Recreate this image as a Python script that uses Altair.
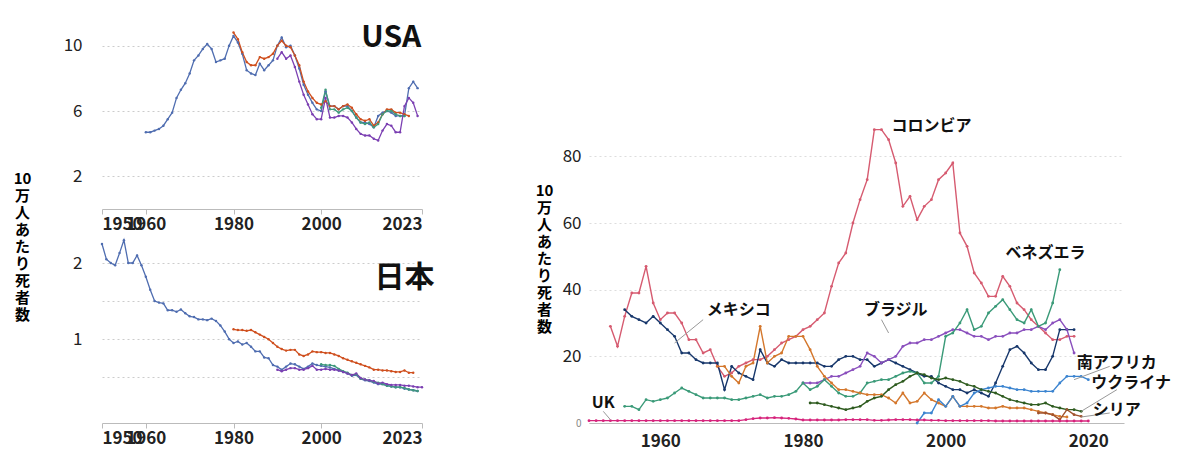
import altair as alt
import pandas as pd

FONT = "Noto Sans CJK JP"

# USA (per 100k), start year + yearly values
usa_blue_start = 1960
usa_blue = [4.7, 4.7, 4.8, 4.9, 5.1, 5.5, 5.9, 6.8, 7.3, 7.7, 8.3, 9.1, 9.4, 9.8, 10.1, 9.8, 9.0, 9.1, 9.2, 10.0,
            10.6, 10.2, 9.5, 8.5, 8.3, 8.2, 8.9, 8.5, 8.8, 9.1, 10.0, 10.5, 9.9, 10.0, 9.4, 8.6, 7.6, 7.0, 6.5, 6.1,
            6.0, 7.2, 6.3, 6.3, 6.1, 6.3, 6.3, 6.0, 5.6, 5.3, 5.3, 5.2, 5.0, 5.7, 5.9, 6.0, 5.9, 5.7, 5.7, 5.7,
            7.4, 7.8, 7.4]
usa_orange_start = 1980
usa_orange = [10.8, 10.4, 9.6, 9.0, 8.8, 8.8, 9.3, 9.2, 9.3, 9.5, 10.0, 10.3, 10.0, 9.9, 9.4, 8.8, 7.8, 7.2, 6.8, 6.5,
              6.4, 6.6, 6.3, 6.3, 6.1, 6.3, 6.4, 6.2, 5.8, 5.5, 5.4, 5.5, 5.1, 5.3, 5.8, 6.1, 6.1, 5.9, 5.9, 5.8, 5.7]
usa_green_start = 2000
usa_green = [6.2, 7.3, 6.1, 6.1, 5.9, 6.1, 6.2, 6.0, 5.6, 5.3, 5.2, 5.3, 5.0, 5.2, 5.8, 6.0, 6.0, 5.8, 5.7, 5.7]
usa_purple_start = 1990
usa_purple = [9.2, 9.6, 9.2, 9.4, 8.7, 7.8, 7.0, 6.4, 5.8, 5.5, 5.5, 6.8, 5.6, 5.6, 5.7, 5.7, 5.6, 5.3, 4.9, 4.6,
              4.5, 4.5, 4.3, 4.2, 4.8, 5.2, 5.1, 4.7, 4.7, 6.3, 6.8, 6.5, 5.7]

# Japan
jp_blue_start = 1950
jp_blue = [2.25, 2.05, 2.0, 1.97, 2.13, 2.3, 2.0, 2.0, 2.1, 1.97, 1.82, 1.65, 1.5, 1.48, 1.47, 1.38, 1.38, 1.36, 1.39,
           1.34, 1.3, 1.29, 1.26, 1.26, 1.25, 1.27, 1.24, 1.18, 1.1, 1.0, 0.95, 0.97, 0.93, 0.95, 0.9, 0.84, 0.84,
           0.76, 0.75, 0.66, 0.64, 0.6, 0.64, 0.68, 0.67, 0.64, 0.61, 0.64, 0.68, 0.66, 0.65, 0.64, 0.63, 0.61,
           0.59, 0.57, 0.55, 0.52, 0.53, 0.48, 0.46, 0.45, 0.43, 0.41, 0.41, 0.39, 0.38, 0.37, 0.37, 0.35, 0.34,
           0.33, 0.32]
jp_orange_start = 1980
jp_orange = [1.13, 1.12, 1.12, 1.11, 1.12, 1.09, 1.06, 1.03, 1.0, 0.95, 0.9, 0.87, 0.85, 0.86, 0.86, 0.8, 0.78, 0.8,
             0.84, 0.83, 0.83, 0.82, 0.82, 0.8, 0.78, 0.75, 0.73, 0.71, 0.69, 0.67, 0.65, 0.63, 0.6, 0.6, 0.59,
             0.59, 0.58, 0.57, 0.57, 0.59, 0.56, 0.56]
jp_green_start = 2000
jp_green = [0.67, 0.66, 0.66, 0.65, 0.61, 0.58, 0.56, 0.53, 0.54, 0.48, 0.47, 0.46, 0.44, 0.43, 0.41, 0.39, 0.38,
            0.37, 0.37, 0.36, 0.34, 0.33, 0.32]
jp_purple_start = 1990
jp_purple = [0.6, 0.58, 0.6, 0.62, 0.62, 0.6, 0.6, 0.62, 0.65, 0.6, 0.6, 0.61, 0.6, 0.6, 0.59, 0.57, 0.55, 0.53,
             0.55, 0.49, 0.47, 0.46, 0.45, 0.42, 0.43, 0.41, 0.4, 0.4, 0.4, 0.39, 0.39, 0.38, 0.37, 0.37]

# Right panel countries
colombia_start = 1953
colombia = [29, 23, 32, 39, 39, 47, 36, 31, 33, 33, 30, 25, 25, 21, 22, 17, 14, 15, 17, 18, 19, 19, 20, 22, 24, 25,
            26, 28, 29, 31, 33, 41, 48, 51, 60, 67, 73, 88, 88, 85, 78, 65, 68, 61, 65, 67, 73, 75, 78, 57, 53, 45,
            42, 38, 38, 44, 41, 36, 34, 31, 29, 27, 25, 25, 26, 26]
mexico_start = 1955
mexico = [34, 32, 31, 30, 32, 30, 28, 26, 21, 21, 19, 18, 18, 18, 10, 17, 15, 14, 13, 22, 18, 17, 19, 18, 18, 18, 18,
          18, 17, 17, 19, 20, 20, 19, 19, 17, 18, 19, 18, 17, 16, 15, 14, 14, 12, 11, 10, 10, 9, 10, 9, 8, 12, 17,
          22, 23, 21, 18, 16, 16, 20, 28, 28, 28]
brazil_start = 1980
brazil = [12, 12, 12, 13, 14, 14, 15, 16, 17, 21, 20, 18, 19, 20, 23, 24, 24, 25, 25, 26, 27, 28, 28, 27, 26, 26, 25,
          26, 26, 27, 27, 28, 28, 29, 28, 30, 31, 28, 21]
venezuela_start = 1955
venezuela = [5, 5, 4, 7, 6.5, 7, 7.5, 9, 10.5, 9.5, 8.5, 7.5, 7.5, 7.5, 7.5, 7, 7, 7.5, 8, 8.5, 7.5, 8, 8, 8.5, 9.5,
             12, 10, 11, 13, 11, 9, 8, 8, 9, 12, 12.5, 13, 13, 14, 15, 15.5, 15, 12, 12, 14, 26, 27, 30, 34, 28, 29,
             33, 35, 37, 34, 31, 30, 34, 29, 30, 36, 46]
other_start = 1968
other = [17, 17, 14, 12, 17, 18, 29, 18, 20, 21, 26, 26, 26, 22, 17, 14, 12, 10, 10, 9.5, 9, 8.5, 8.5, 8.5, 7.5, 6, 9,
         6, 6.5, 9, 7, 6, 5, 8, 5, 5, 5, 5, 4.5, 4.5, 5, 4.5, 4.5, 4.5, 4, 3.5, 3, 2.5, 2, 1.8]
safrica_start = 1996
safrica = [0, 3, 3, 7, 5, 8, 5, 6, 9, 10, 10.5, 11, 11, 10.5, 10, 10, 9.5, 9.5, 9.5, 9.5, 12, 14, 14, 14, 13]
ukraine_start = 1981
ukraine = [6, 6, 5.5, 5, 4.5, 4, 4.5, 5, 6.5, 7.5, 8, 10, 11.5, 12.5, 14, 15, 14.5, 13.5, 13, 13.5, 13, 12.5, 11.5,
           11, 10, 9.5, 9, 8, 7, 6.5, 6, 5.5, 5.5, 6, 5, 4.5, 4, 4, 3.5]
syria_start = 2013
syria = [3, 3, 2.5, 1, 4, 2.5, 2]
uk_start = 1950
uk = [0.7] * 22 + [1.0, 1.3, 1.5, 1.5, 1.6, 1.5, 1.4, 1.2, 0.9, 0.9, 0.9, 0.9, 0.9, 0.9, 1.0, 1.0, 1.0, 1.0, 0.8, 0.8,
                   0.9, 1.0, 1.0, 1.0, 0.9, 0.9, 0.8, 0.8, 0.7, 0.7, 0.7, 0.7, 0.7, 0.7, 0.7, 0.6, 0.6, 0.6, 0.6,
                   0.6, 0.6, 0.6, 0.6, 0.6, 0.6, 0.6, 0.6, 0.6, 0.6]


def frame(pairs):
    rows = []
    for name, start, vals in pairs:
        for i, v in enumerate(vals):
            rows.append({"s": name, "year": start + i, "v": v})
    return pd.DataFrame(rows)


left_names = ["blue", "orange", "green", "purple"]
left_colors = ["#4f6db0", "#cf4f1e", "#3f9a7c", "#7b3fb2"]

usa_df = frame([("blue", usa_blue_start, usa_blue), ("orange", usa_orange_start, usa_orange),
                ("green", usa_green_start, usa_green), ("purple", usa_purple_start, usa_purple)])
jp_df = frame([("blue", jp_blue_start, jp_blue), ("orange", jp_orange_start, jp_orange),
               ("green", jp_green_start, jp_green), ("purple", jp_purple_start, jp_purple)])

grid = dict(gridColor="#cccccc", gridDash=[2, 3], domain=False, ticks=False, labelOverlap=False,
            labelFont=FONT, labelFontSize=17, labelColor="#222", labelPadding=20)
xaxis = dict(values=[1950, 1960, 1980, 2000, 2023], format="d", grid=False, domainColor="#bbb",
             tickColor="#bbb", labelOverlap=False, labelFont=FONT, labelFontSize=17, labelColor="#222",
             labelFontWeight="bold")
ytitle = ["10", "万", "人", "あ", "た", "り", "死", "者", "数"]


def left_panel(df, ydom, yvals, ylabels, title_lines, name, name_xy, h):
    x = alt.X("year:Q", scale=alt.Scale(domain=[1950, 2023], nice=False), axis=alt.Axis(title=None, **xaxis))
    y = alt.Y("v:Q", scale=alt.Scale(domain=ydom, zero=False, nice=False),
              axis=alt.Axis(values=yvals, labelExpr=ylabels, format="~g", title=title_lines, titleAngle=0,
                            titleFont=FONT, titleFontSize=15, titleFontWeight="bold", titleLineHeight=17,
                            titleX=-80, titleY=158 if title_lines else 0, titleAlign="center",
                            titleBaseline="top", **grid))
    col = alt.Color("s:N", scale=alt.Scale(domain=left_names, range=left_colors), legend=None)
    line = alt.Chart(df).mark_line(strokeWidth=1.3, point=alt.OverlayMarkDef(size=6)).encode(x=x, y=y, color=col)
    lab = alt.Chart(pd.DataFrame({"t": [name], "year": [name_xy[0]], "v": [name_xy[1]]})).mark_text(
        font=FONT, fontSize=30, fontWeight="bold", color="#111").encode(x="year:Q", y="v:Q", text="t:N")
    return (line + lab).properties(width=320, height=h)


usa = left_panel(usa_df, [0, 12], [2, 4, 6, 8, 10, 12], "datum.value == 12 ? '' : datum.label",
                 ytitle, "USA", (2016, 10.5), 196)
jp = left_panel(jp_df, [-0.1, 2.42], [0.5, 1, 1.5, 2],
                "datum.value == 1 || datum.value == 2 ? datum.label : ''", "", "日本", (2019, 1.8), 192)
left = alt.vconcat(usa, jp, spacing=22, bounds="flush")

names = ["コロンビア", "メキシコ", "ブラジル", "ベネズエラ", "other", "南アフリカ", "ウクライナ", "シリア", "UK"]
colors = ["#d65b70", "#17376b", "#8a4fbd", "#3a9a78", "#d4772c", "#3b84d0", "#2e5b1f", "#a0522d", "#d6247c"]
rdf = frame([("コロンビア", colombia_start, colombia), ("メキシコ", mexico_start, mexico),
             ("ブラジル", brazil_start, brazil), ("ベネズエラ", venezuela_start, venezuela),
             ("other", other_start, other), ("南アフリカ", safrica_start, safrica),
             ("ウクライナ", ukraine_start, ukraine), ("シリア", syria_start, syria), ("UK", uk_start, uk)])
rdf = rdf.rename(columns={"s": "country"})

rx = alt.X("year:Q", scale=alt.Scale(domain=[1950, 2025], nice=False),
           axis=alt.Axis(values=[1960, 1980, 2000, 2020], format="d", title=None, grid=False,
                         domainColor="#bbb", ticks=False, labelFont=FONT, labelFontSize=17,
                         labelColor="#222", labelFontWeight="bold", labelPadding=10))
ry = alt.Y("v:Q", scale=alt.Scale(domain=[0, 123], nice=False),
           axis=alt.Axis(values=[0, 20, 40, 60, 80], title=ytitle, titleAngle=0, titleFont=FONT,
                         titleFontSize=15, titleFontWeight="bold", titleLineHeight=17, titleX=-45,
                         titleY=170, titleAlign="center", titleBaseline="top",
                         labelFontSize={"condition": {"test": "datum.value == 0", "value": 10}, "value": 17},
                         labelColor={"condition": {"test": "datum.value == 0", "value": "#888"}, "value": "#222"},
                         gridColor="#ddd", gridDash=[2, 3], domain=False, ticks=False, labelFont=FONT,
                         labelPadding=8))
rlines = alt.Chart(rdf).mark_line(strokeWidth=1.4, point=alt.OverlayMarkDef(size=8)).encode(
    x=rx, y=ry, color=alt.Color("country:N", scale=alt.Scale(domain=names, range=colors), legend=None))

lab_t = ["コロンビア", "メキシコ", "ブラジル", "ベネズエラ", "南アフリカ", "ウクライナ", "シリア", "UK"]
lab_x = [1998, 1971, 1993, 2014, 2024, 2026, 2024, 1952]
lab_y = [89, 34, 34, 51, 18, 12, 4, 6]
labels = alt.Chart(pd.DataFrame({"t": lab_t, "year": lab_x, "v": lab_y})).mark_text(
    font=FONT, fontSize=16, fontWeight="bold", color="#111").encode(x="year:Q", y="v:Q", text="t:N")

ld_x = [1966, 1991, 2018, 2019, 2019, 1952]
ld_x2 = [1962, 1992, 2023, 2024, 2023, 1953]
ld_y = [31, 31, 13, 3.5, 1.8, 3.5]
ld_y2 = [24, 27, 17, 10, 3, 1]
leaders = alt.Chart(pd.DataFrame({"x": ld_x, "x2": ld_x2, "y": ld_y, "y2": ld_y2})).mark_rule(
    color="#999", strokeWidth=1).encode(x="x:Q", x2="x2:Q", y="y:Q", y2="y2:Q")

right = (rlines + leaders + labels).properties(width=535, height=410)

chart = alt.hconcat(left, right, spacing=100).resolve_scale(color="independent").properties(
    padding={"left": 5, "top": 5, "right": 5, "bottom": 5}).configure_view(strokeWidth=0)

chart.save("out.html", embed_options={"renderer": "svg", "actions": False})
